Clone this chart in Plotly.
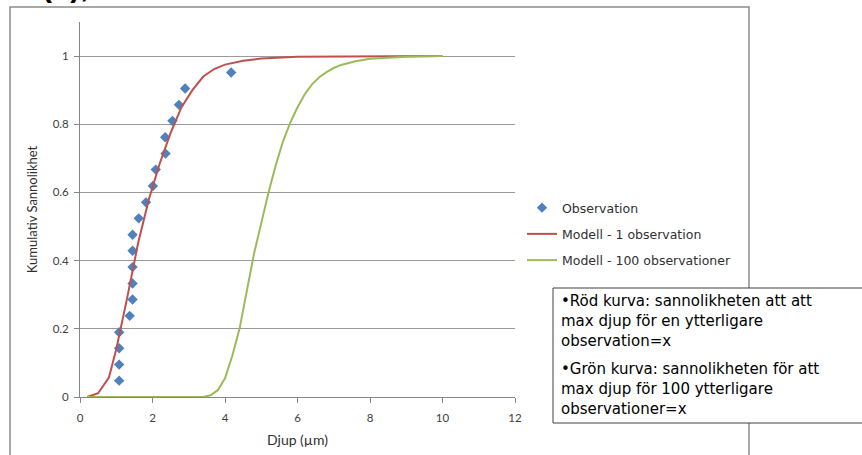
import plotly.graph_objects as go

# ---- data ----
obs_x = [1.08, 1.08, 1.08, 1.08, 1.37, 1.45, 1.45, 1.45, 1.45, 1.45,
         1.62, 1.82, 2.01, 2.09, 2.36, 2.35, 2.55, 2.73, 2.90, 4.17]
obs_y = [0.048, 0.095, 0.143, 0.190, 0.238, 0.286, 0.333, 0.381, 0.429, 0.476,
         0.524, 0.571, 0.619, 0.667, 0.714, 0.762, 0.810, 0.857, 0.905, 0.952]

red_x = [0.2, 0.5, 0.8, 1.0, 1.3, 1.6, 1.9, 2.2, 2.5, 2.8, 3.1, 3.4, 3.7,
         4.0, 4.5, 5.0, 6.0, 7.0, 8.0, 10.0]
red_y = [0.0, 0.011, 0.058, 0.14, 0.29, 0.45, 0.58, 0.685, 0.775, 0.85, 0.90,
         0.94, 0.962, 0.975, 0.986, 0.993, 0.998, 0.999, 1.0, 1.0]

green_x = [0.2, 3.4, 3.6, 3.8, 4.0, 4.2, 4.4, 4.6, 4.8, 5.0, 5.2, 5.4, 5.6,
           5.8, 6.0, 6.2, 6.4, 6.6, 6.8, 7.0, 7.2, 7.6, 8.0, 9.0, 10.0]
green_y = [0.0, 0.0, 0.005, 0.02, 0.055, 0.12, 0.20, 0.31, 0.42, 0.51, 0.60,
           0.68, 0.75, 0.805, 0.85, 0.888, 0.917, 0.938, 0.953, 0.965, 0.974,
           0.985, 0.992, 0.998, 1.0]

x_ticks = [0, 2, 4, 6, 8, 10, 12]
x_ticktext = ["0", "2", "4", "6", "8", "10", "12"]
y_ticks = [0, 0.2, 0.4, 0.6, 0.8, 1.0]
y_ticktext = ["0", "0.2", "0.4", "0.6", "0.8", "1"]

legend_names = ["Observation", "Modell - 1 observation", "Modell - 100 observationer"]
note_lines = [
    "•Röd kurva: sannolikheten att att",
    "max djup för en ytterligare",
    "observation=x",
    "•Grön kurva: sannolikheten för att",
    "max djup för 100 ytterligare",
    "observationer=x",
]

# ---- layout geometry (pixels) ----
W, H = 862, 455
L, R, T, B = 80, 515, 22, 397
def px(x):
    return (x - L) / (R - L)
def py(y):
    return (B - y) / (B - T)

fig = go.Figure()
fig.add_trace(go.Scatter(x=obs_x, y=obs_y, mode="markers", name=legend_names[0],
                         marker=dict(symbol="diamond", size=8, color="#4f81bd"),
                         legendgroup="a"))
fig.add_trace(go.Scatter(x=red_x, y=red_y, mode="lines", name=legend_names[1],
                         line=dict(color="#c0504d", width=2), legendgroup="b"))
fig.add_trace(go.Scatter(x=green_x, y=green_y, mode="lines", name=legend_names[2],
                         line=dict(color="#9bbb59", width=2), legendgroup="c"))

shapes = [
    # outer chart frame
    dict(type="rect", xref="paper", yref="paper", x0=px(10), x1=px(749),
         y0=py(475), y1=py(7), line=dict(color="#8c8c8c", width=1.5), layer="below"),
    # note box
    dict(type="rect", xref="paper", yref="paper", x0=px(553), x1=px(868),
         y0=py(423), y1=py(288), line=dict(color="#404040", width=1),
         fillcolor="white", layer="above"),
]

annotations = [
    dict(text="<b>(b),</b>", xref="paper", yref="paper", x=px(40), y=py(5),
         xanchor="left", yanchor="bottom", showarrow=False,
         font=dict(family="Liberation Sans", size=30, color="black")),
]
line_y = [301, 321, 341, 369, 389, 409]
for t, yy in zip(note_lines, line_y):
    annotations.append(dict(text=t, xref="paper", yref="paper", x=px(559), y=py(yy),
                            xanchor="left", yanchor="middle", showarrow=False,
                            font=dict(family="DejaVu Sans", size=15, color="black")))

axis_font = dict(family="Lato", size=11.5, color="#404040")
fig.update_layout(
    width=W, height=H,
    margin=dict(l=L, r=W - R, t=T, b=H - B, pad=0, autoexpand=False),
    paper_bgcolor="white", plot_bgcolor="white",
    shapes=shapes, annotations=annotations,
    showlegend=True,
    legend=dict(x=px(522), y=py(193), xanchor="left", yanchor="top",
                font=dict(family="DejaVu Sans", size=12.5, color="#303030"),
                tracegroupgap=7, itemwidth=30, bgcolor="rgba(0,0,0,0)"),
    xaxis=dict(range=[0, 12], tickvals=x_ticks, ticktext=x_ticktext,
               showgrid=False, zeroline=False, showline=True, linecolor="#868686",
               linewidth=1, ticks="outside", ticklen=5, tickcolor="#868686",
               tickfont=axis_font, ticklabelstandoff=5, automargin=False,
               title=dict(text="Djup (µm)", font=dict(family="Lato", size=14, color="#303030"),
                          standoff=12)),
    yaxis=dict(range=[0, 1.1], tickvals=y_ticks, ticktext=y_ticktext,
               showgrid=True, gridcolor="#9a9a9a", gridwidth=1, zeroline=False,
               showline=True, linecolor="#868686", linewidth=1,
               ticks="outside", ticklen=5, tickcolor="#868686",
               tickfont=axis_font, ticklabelstandoff=3, automargin=False,
               title=dict(text="Kumulativ Sannolikhet",
                          font=dict(family="Lato", size=13, color="#303030"),
                          standoff=12)),
)

fig.write_html("out.html")
